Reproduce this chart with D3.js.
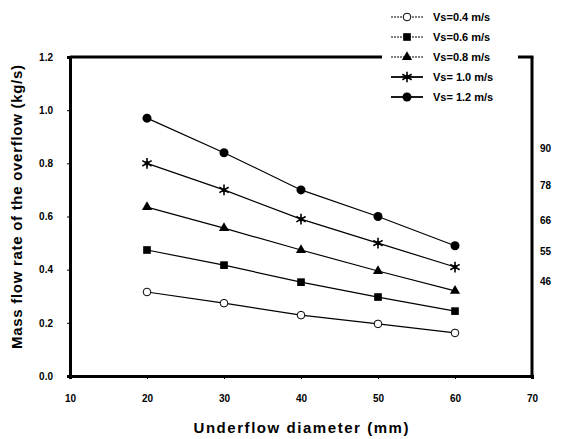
<!DOCTYPE html>
<html>
<head>
<meta charset="utf-8">
<script src="https://cdn.jsdelivr.net/npm/d3@7"></script>
<style>
  body { margin: 0; background: #fff; }
  text { font-family: "Liberation Sans", Arial, sans-serif; font-weight: bold; fill: #000; }
</style>
</head>
<body>
<div id="chart"></div>
<script>
// underflow diameter (mm)
const diameters = [20, 30, 40, 50, 60];

// mass flow rate of overflow (kg/s) per inlet velocity
const vs04 = [0.316, 0.274, 0.229, 0.196, 0.162];
const vs06 = [0.474, 0.417, 0.353, 0.297, 0.244];
const vs08 = [0.635, 0.556, 0.474, 0.395, 0.320];
const vs10 = [0.800, 0.700, 0.590, 0.500, 0.410];
const vs12 = [0.970, 0.840, 0.700, 0.600, 0.490];

const seriesNames = ["Vs=0.4 m/s", "Vs=0.6 m/s", "Vs=0.8 m/s", "Vs= 1.0 m/s", "Vs= 1.2 m/s"];
const seriesMarkers = ["ocircle", "square", "triangle", "star", "circle"];

const xTicks = [10, 20, 30, 40, 50, 60, 70];
const yTicks = [0.0, 0.2, 0.4, 0.6, 0.8, 1.0, 1.2];

// labels on the right side
const rightLabels = ["90", "78", "66", "55", "46"];
const rightLabelVals = [0.855, 0.715, 0.585, 0.47, 0.355];

const series = [vs04, vs06, vs08, vs10, vs12].map((vals, i) => ({
  name: seriesNames[i],
  marker: seriesMarkers[i],
  points: vals.map((v, j) => ({ x: diameters[j], y: v }))
}));

const W = 565, H = 439;
const margin = { top: 57, right: 33, bottom: 63, left: 70 };
const width = W - margin.left - margin.right;
const height = H - margin.top - margin.bottom;

const svg = d3.select("#chart").append("svg")
    .attr("width", W)
    .attr("height", H);

const g = svg.append("g")
    .attr("transform", "translate(" + margin.left + "," + margin.top + ")");

const xScale = d3.scaleLinear().domain([10, 70]).range([0, width]);
const yScale = d3.scaleLinear().domain([0, 1.2]).range([height, 0]);

// axes
const xAxis = g.append("g")
    .attr("transform", "translate(0," + height + ")")
    .call(d3.axisBottom(xScale).tickValues(xTicks).tickSize(3).tickPadding(16).tickFormat(d3.format("d")));
const yAxis = g.append("g")
    .call(d3.axisLeft(yScale).tickValues(yTicks).tickSize(3).tickPadding(14).tickFormat(d3.format(".1f")));

[xAxis, yAxis].forEach(a => {
  a.select(".domain").attr("stroke", "#000").attr("stroke-width", 3);
  a.selectAll(".tick line").attr("stroke", "#000").attr("stroke-width", 1);
  a.selectAll(".tick text").style("font-size", "10px").style("font-weight", "bold");
});

// right border
g.append("line")
    .attr("x1", width).attr("x2", width)
    .attr("y1", 0).attr("y2", height)
    .attr("stroke", "#000").attr("stroke-width", 3);

// top border, broken by the legend
g.append("line")
    .attr("x1", 0).attr("x2", 312)
    .attr("y1", 0).attr("y2", 0)
    .attr("stroke", "#000").attr("stroke-width", 3);
g.append("line")
    .attr("x1", width - 14).attr("x2", width + 1.5)
    .attr("y1", 0).attr("y2", 0)
    .attr("stroke", "#000").attr("stroke-width", 3);

// axis titles
g.append("text")
    .attr("x", width / 2)
    .attr("y", height + 57)
    .attr("text-anchor", "middle")
    .attr("textLength", 215)
    .attr("lengthAdjust", "spacing")
    .style("font-size", "15px")
    .text("Underflow diameter (mm)");

g.append("text")
    .attr("transform", "rotate(-90)")
    .attr("x", -150)
    .attr("y", -48)
    .attr("text-anchor", "middle")
    .attr("textLength", 284)
    .attr("lengthAdjust", "spacing")
    .style("font-size", "15px")
    .text("Mass flow rate of the overflow (kg/s)");

// markers
function drawMarker(sel, type, size) {
  if (type === "ocircle") {
    sel.append("circle").attr("r", size * 0.85).attr("fill", "#fff").attr("stroke", "#000").attr("stroke-width", 1);
  } else if (type === "circle") {
    sel.append("circle").attr("r", size).attr("fill", "#000");
  } else if (type === "square") {
    sel.append("rect").attr("x", -size * 0.85).attr("y", -size * 0.85)
       .attr("width", size * 1.7).attr("height", size * 1.7).attr("fill", "#000");
  } else if (type === "triangle") {
    sel.append("path").attr("d", d3.symbol(d3.symbolTriangle, size * size * 2.2)).attr("fill", "#000");
  } else if (type === "star") {
    sel.append("path").attr("d", d3.symbol(d3.symbolAsterisk, size * size * 4)).attr("stroke", "#000").attr("stroke-width", 1.6);
    sel.append("circle").attr("r", size * 0.5).attr("fill", "#000");
  }
}

const line = d3.line()
    .x(d => xScale(d.x))
    .y(d => yScale(d.y));

series.forEach(s => {
  g.append("path")
      .datum(s.points)
      .attr("d", line)
      .attr("fill", "none")
      .attr("stroke", "#000")
      .attr("stroke-width", 1.2);

  g.selectAll(null)
      .data(s.points)
      .enter()
      .append("g")
      .attr("transform", d => "translate(" + xScale(d.x) + "," + yScale(d.y) + ")")
      .each(function() { drawMarker(d3.select(this), s.marker, 4.5); });
});

// right side labels
g.selectAll(".rlabel")
    .data(rightLabels)
    .enter()
    .append("text")
    .attr("class", "rlabel")
    .attr("x", width + 8)
    .attr("y", (d, i) => yScale(rightLabelVals[i]))
    .attr("dy", "0.35em")
    .style("font-size", "10px")
    .text(d => d);

// legend
const legend = svg.append("g").attr("transform", "translate(391,17)");
const legendRows = legend.selectAll("g")
    .data(series)
    .enter()
    .append("g")
    .attr("transform", (d, i) => "translate(0," + (i * 20) + ")");

legendRows.append("line")
    .attr("x1", 0).attr("x2", 32)
    .attr("stroke", "#000")
    .attr("stroke-width", (d, i) => i < 3 ? 1 : 1.8)
    .attr("stroke-dasharray", (d, i) => i < 3 ? "2,1" : null);

legendRows.append("g")
    .attr("transform", "translate(16,0)")
    .each(function(d) { drawMarker(d3.select(this), d.marker, 4.5); });

legendRows.append("text")
    .attr("x", 42)
    .attr("dy", "0.35em")
    .style("font-size", "11px")
    .text(d => d.name);
</script>
</body>
</html>
